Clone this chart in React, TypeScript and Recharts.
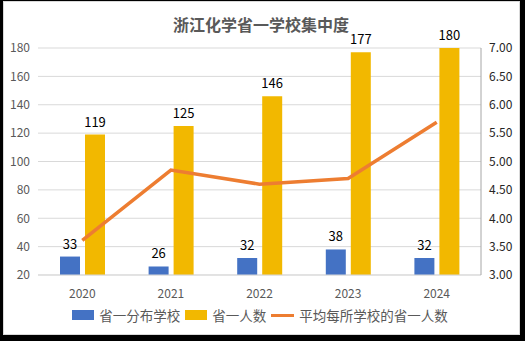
import { ComposedChart, Bar, Line, XAxis, YAxis, CartesianGrid, Legend, LabelList } from 'recharts'

const years = ['2020', '2021', '2022', '2023', '2024']
const schools = [33, 26, 32, 38, 32]
const firstPrize = [119, 125, 146, 177, 180]
const avgPerSchool = [3.61, 4.85, 4.6, 4.7, 5.69]

const leftTicks = [20, 40, 60, 80, 100, 120, 140, 160, 180]
const rightTicks = [3, 3.5, 4, 4.5, 5, 5.5, 6, 6.5, 7]

const data = years.map((year, i) => ({
  year,
  schools: schools[i],
  firstPrize: firstPrize[i],
  avg: avgPerSchool[i],
}))

const FONT = '"Noto Sans CJK SC", "Noto Sans", sans-serif'
const BLUE = '#4472C4'
const GOLD = '#F2B800'
const ORANGE = '#ED7D31'

function LegendContent() {
  const item = { display: 'flex', alignItems: 'center', marginRight: 5 } as const
  return (
    <div style={{ display: 'flex', justifyContent: 'center', height: 20, alignItems: 'center', fontFamily: FONT, fontSize: 13.5, color: '#595959' }}>
      <div style={item}>
        <span style={{ width: 22, height: 10, background: BLUE, marginRight: 5 }} />
        省一分布学校
      </div>
      <div style={item}>
        <span style={{ width: 22, height: 10, background: GOLD, marginRight: 5 }} />
        省一人数
      </div>
      <div style={item}>
        <span style={{ width: 23, height: 3, background: ORANGE, marginRight: 5 }} />
        平均每所学校的省一人数
      </div>
    </div>
  )
}

export default function App() {
  return (
    <div style={{ position: 'absolute', left: 0, top: 0, width: 525, height: 341, background: '#000' }}>
      <div style={{ position: 'absolute', left: 3, top: 1, width: 515, height: 332, background: '#fff', border: '1px solid #d9d9d9' }} />
      <div style={{ position: 'absolute', left: 0, top: 12, width: 522, textAlign: 'center', fontFamily: FONT, fontWeight: 'bold', fontSize: 16, color: '#595959' }}>
        浙江化学省一学校集中度
      </div>
      <div style={{ position: 'absolute', left: 0, top: 0 }}>
        <ComposedChart width={525} height={341} data={data} margin={{ top: 48, right: 0, bottom: 16, left: 0 }} barGap={5}>
          <CartesianGrid vertical={false} stroke="#d9d9d9" yAxisId="left" />
          <XAxis
            dataKey="year"
            tickLine={false}
            axisLine={{ stroke: '#d9d9d9' }}
            tickMargin={8}
            height={30}
            tick={{ fontSize: 12, fill: '#595959', fontFamily: FONT }}
          />
          <YAxis
            yAxisId="left"
            domain={[20, 180]}
            ticks={leftTicks}
            width={38}
            axisLine={false}
            tickLine={false}
            tick={{ fontSize: 12, fill: '#595959', fontFamily: FONT }}
          />
          <YAxis
            yAxisId="right"
            orientation="right"
            domain={[3, 7]}
            ticks={rightTicks}
            tickFormatter={(v: number) => v.toFixed(2)}
            width={44}
            axisLine={{ stroke: '#a6a6a6' }}
            tickLine={false}
            tick={{ fontSize: 12, fill: '#262626', fontFamily: FONT }}
          />
          <Legend verticalAlign="bottom" content={<LegendContent />} />
          <Bar yAxisId="left" dataKey="schools" fill={BLUE} barSize={20} isAnimationActive={false}>
            <LabelList dataKey="schools" position="top" offset={8} style={{ fontSize: 13, fill: '#000', fontFamily: FONT }} />
          </Bar>
          <Bar yAxisId="left" dataKey="firstPrize" fill={GOLD} barSize={20} isAnimationActive={false}>
            <LabelList dataKey="firstPrize" position="top" offset={8} style={{ fontSize: 13, fill: '#000', fontFamily: FONT }} />
          </Bar>
          <Line yAxisId="right" type="linear" dataKey="avg" stroke={ORANGE} strokeWidth={3.5} dot={false} activeDot={false} isAnimationActive={false} />
        </ComposedChart>
      </div>
    </div>
  )
}
